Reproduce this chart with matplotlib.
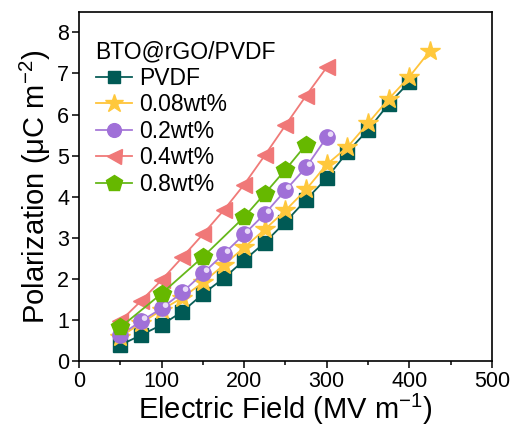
import matplotlib
matplotlib.use("Agg")
import matplotlib.pyplot as plt
from matplotlib.markers import MarkerStyle
from matplotlib.transforms import Affine2D
from matplotlib.ticker import MultipleLocator

plt.rcParams['font.family'] = ['Liberation Sans', 'DejaVu Sans']
plt.rcParams['mathtext.fontset'] = 'custom'
plt.rcParams['mathtext.rm'] = 'Liberation Sans'
plt.rcParams['mathtext.it'] = 'Liberation Sans:italic'
plt.rcParams['mathtext.bf'] = 'Liberation Sans:bold'

# Electric field (MV/m) and polarization (uC/m^2) for each composition
field_pvdf = [50, 75, 100, 125, 150, 175, 200, 225, 250, 275, 300, 325, 350, 375, 400]
pol_pvdf = [0.40, 0.64, 0.89, 1.21, 1.64, 2.02, 2.46, 2.89, 3.39, 3.93, 4.46, 5.09, 5.63, 6.26, 6.79]

field_008 = [50, 75, 100, 125, 150, 175, 200, 225, 250, 275, 300, 325, 350, 375, 400, 425]
pol_008 = [0.60, 0.93, 1.25, 1.55, 1.92, 2.34, 2.77, 3.21, 3.67, 4.18, 4.79, 5.21, 5.79, 6.38, 6.92, 7.55]

field_02 = [50, 75, 100, 125, 150, 175, 200, 225, 250, 275, 300]
pol_02 = [0.64, 0.98, 1.29, 1.68, 2.14, 2.61, 3.09, 3.59, 4.16, 4.72, 5.45]

field_04 = [50, 75, 100, 125, 150, 175, 200, 225, 250, 275, 300]
pol_04 = [0.98, 1.47, 1.98, 2.53, 3.09, 3.67, 4.30, 5.01, 5.74, 6.46, 7.15]

field_08 = [50, 100, 150, 200, 225, 250, 275]
pol_08 = [0.83, 1.65, 2.54, 3.51, 4.08, 4.66, 5.27]

labels = ['PVDF', '0.08wt%', '0.2wt%', '0.4wt%', '0.8wt%']
legend_title = 'BTO@rGO/PVDF'

fig = plt.figure(figsize=(5.17, 4.32), dpi=100)
ax = fig.add_axes([0.1528, 0.1632, 0.7988, 0.8098])

lw = 1.3
ax.plot(field_pvdf, pol_pvdf, color='#0a5e58', lw=lw, marker='s', ms=10,
        mfc='#005a55', mec='#005a55', label=labels[0], zorder=3)
ax.plot(field_008, pol_008, color='#ffc43a', lw=lw, marker='*', ms=15,
        mfc='#ffc83c', mec='#ffc83c', label=labels[1], zorder=4)
ax.plot(field_02, pol_02, color='#a77ad8', lw=lw, marker='o', ms=11,
        mfc='#a070d8', mec='#a070d8', label=labels[2], zorder=5)
# glossy highlight on the spheres
hl = MarkerStyle('o', transform=Affine2D().translate(0.55, 0.6))
ax.plot(field_02, pol_02, ls='none', marker=hl, ms=4,
        mfc='#eee2fa', mec='none', alpha=0.95, zorder=5.5)
ax.plot(field_04, pol_04, color='#f07a78', lw=lw, marker='<', ms=12,
        mfc='#f07878', mec='#f07878', label=labels[3], zorder=6)
ax.plot(field_08, pol_08, color='#66b81a', lw=lw, marker='p', ms=13,
        mfc='#66b800', mec='#66b800', label=labels[4], zorder=7)

ax.set_xlim(0, 500)
ax.set_ylim(0, 8.5)
ax.xaxis.set_major_locator(MultipleLocator(100))
ax.xaxis.set_minor_locator(MultipleLocator(50))
ax.yaxis.set_major_locator(MultipleLocator(1))

for s in ax.spines.values():
    s.set_linewidth(1.2)
ax.tick_params(which='both', direction='out', top=False, right=False, width=1.1,
               labelsize=15.5, pad=2)
ax.tick_params(which='major', length=5)
ax.tick_params(which='minor', length=3)

ax.set_xlabel('Electric Field (MV m$^{\\mathregular{-1}}$)', fontsize=21, labelpad=0)
ax.set_ylabel('Polarization (μC m$^{\\mathregular{-2}}$)', fontsize=21, labelpad=3)

leg = ax.legend(title=legend_title, loc='upper left', frameon=False,
                fontsize=16.5, title_fontsize=16.5, bbox_to_anchor=(0.04, 0.918),
                handlelength=1.6, handletextpad=0.3, labelspacing=0.15,
                borderaxespad=0, borderpad=0)
leg._legend_box.align = 'left'
for h in leg.legend_handles:
    h.set_markersize(h.get_markersize() * 0.9)

fig.savefig('out.png', dpi=100)
